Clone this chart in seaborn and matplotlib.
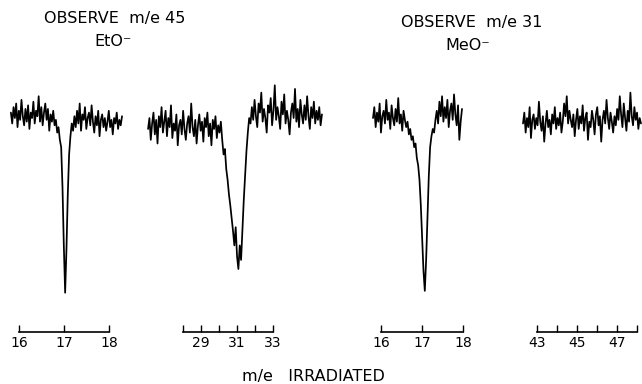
import numpy as np
import matplotlib
matplotlib.use('Agg')
import matplotlib.pyplot as plt
import seaborn as sns

# sweep range (m/e) covered by each recorded trace
P1_SWEEP = (15.82, 18.29)
P2_SWEEP = (26.06, 35.72)
P3_SWEEP = (15.805, 17.976)
P4_SWEEP = (42.30, 48.20)

P1_SIGNAL = [103, 97, 106, 100, 108, 95, 104, 99, 110, 101,
             96, 105, 98, 107, 94, 103, 100, 109, 97, 104,
             101, 112, 98, 106, 96, 103, 108, 99, 105, 93,
             102, 98, 104, 96,
             99, 92, 95, 88, 84, 62, 30,
             4,
             28, 58, 80, 90, 97, 93,
             101, 95, 104, 97, 108, 93, 102, 99, 106, 94,
             100, 103, 96, 107, 98, 92, 101, 96, 104, 90,
             99, 102, 95, 100, 93, 98, 104, 95, 99, 91,
             100, 97, 103, 94, 99, 96, 101]

P2_SIGNAL = [94, 100, 88, 97, 103, 91, 99, 86, 101, 95,
             106, 92, 98, 104, 90, 100, 95, 107, 89, 97,
             93, 102, 85, 96, 99, 91, 104, 94, 88, 97,
             101, 92, 108, 95, 90, 99, 86, 96, 102, 93,
             98, 87, 100, 95, 103, 90, 97, 85, 99, 94,
             101, 89, 96, 92, 98,
             88, 80, 83, 72, 66, 58, 52, 45, 38, 30,
             40, 24, 17, 30, 22, 38, 55, 68, 82, 92, 100,
             97, 106, 99, 110, 101, 95, 108, 103, 114, 98,
             105, 100, 92, 107, 103, 111, 96, 104, 118, 99,
             106, 101, 94, 109, 102, 113, 97, 104, 99, 91,
             103, 108, 100, 116, 98, 105, 95, 110, 102, 97,
             107, 99, 112, 101, 94, 106, 100, 109, 97, 104,
             99, 106, 96, 102]

P3_SIGNAL = [100, 106, 95, 103, 98, 108, 92, 101, 104, 97,
             110, 99, 103, 94, 107, 100, 96, 105, 98, 111,
             97, 102, 93, 104, 99, 95,
             98, 91, 94, 88, 90, 84, 86, 78, 74, 66, 52, 34, 16,
             5,
             22, 45, 68, 84, 90, 94, 92, 99,
             104, 97, 109, 101, 112, 98, 106, 100, 110, 95,
             104, 108, 99, 113, 102, 96, 107, 88, 98, 105]

P4_SIGNAL = [97, 103, 92, 100, 95, 106, 89, 99, 102, 94,
             100, 96, 109, 98, 93, 101, 87, 97, 104, 95,
             99, 91, 102, 97, 106, 94, 100, 96, 103, 92,
             98, 108, 101, 112, 97, 104, 99, 95, 102, 90,
             99, 105, 94, 101, 97, 107, 93, 100, 103, 88,
             98, 95, 104, 99, 91, 102, 106, 96, 101, 87,
             99, 104, 97, 110, 100, 94, 103, 98, 92, 101,
             96, 105, 99, 112, 102, 95, 108, 100, 93, 104,
             98, 114, 101, 96, 106, 99, 103, 94, 100, 97]

# irradiated m/e scale under each trace
P1_TICKS = [16, 17, 18]
P1_LABELS = ['16', '17', '18']
P2_TICKS = [28, 29, 30, 31, 32, 33]
P2_LABELS = ['', '29', '', '31', '', '33']
P3_TICKS = [16, 17, 18]
P3_LABELS = ['16', '17', '18']
P4_TICKS = [43, 44, 45, 46, 47, 48]
P4_LABELS = ['43', '', '45', '', '47', '']

sns.set_style('white')
plt.rcParams['font.family'] = ['DejaVu Sans']
plt.rcParams['text.color'] = 'black'

W, H = 642, 384
fig = plt.figure(figsize=(W / 100, H / 100), dpi=100)

# (pixel left, pixel right, xlim) for each panel
panels = [
    (0, 130, (15.578, 18.467), P1_SWEEP, P1_SIGNAL, P1_TICKS, P1_LABELS),
    (140, 330, (25.611, 36.167), P2_SWEEP, P2_SIGNAL, P2_TICKS, P2_LABELS),
    (360, 480, (15.488, 18.415), P3_SWEEP, P3_SIGNAL, P3_TICKS, P3_LABELS),
    (510, 642, (41.65, 48.25), P4_SWEEP, P4_SIGNAL, P4_TICKS, P4_LABELS),
]

bar_px, top_px = 332, 60
for left, right, xlim, sweep, signal, ticks, labels in panels:
    ax = fig.add_axes([left / W, (H - bar_px) / H, (right - left) / W, (bar_px - top_px) / H])
    x = np.linspace(sweep[0], sweep[1], len(signal))
    sns.lineplot(x=x, y=signal, ax=ax, color='black', lw=1.25,
                 estimator=None, sort=False)
    ax.set_xlim(*xlim)
    ax.set_ylim(-17.6, 131.9)
    for s in ['top', 'left', 'right']:
        ax.spines[s].set_visible(False)
    ax.spines['bottom'].set_bounds(ticks[0], ticks[-1])
    ax.spines['bottom'].set_linewidth(1.2)
    ax.spines['bottom'].set_color('black')
    ax.set_yticks([])
    ax.set_xticks(ticks)
    ax.set_xticklabels(labels)
    ax.tick_params(axis='x', bottom=True, direction='in', length=5, width=1.0,
                   pad=3, labelsize=10, colors='black')
    ax.set_facecolor('none')
    ax.set_xlabel('')
    ax.set_ylabel('')

fig.text(115 / W, 1 - 19 / H, 'OBSERVE  m/e 45', ha='center', va='center', fontsize=11.5)
fig.text(113 / W, 1 - 42 / H, 'EtO⁻', ha='center', va='center', fontsize=11.5)
fig.text(472 / W, 1 - 22 / H, 'OBSERVE  m/e 31', ha='center', va='center', fontsize=11.5)
fig.text(468 / W, 1 - 46 / H, 'MeO⁻', ha='center', va='center', fontsize=11.5)
fig.text(313 / W, 1 - 376 / H, 'm/e   IRRADIATED', ha='center', va='center', fontsize=11.5)

fig.savefig('out.png', dpi=100, facecolor='white')
